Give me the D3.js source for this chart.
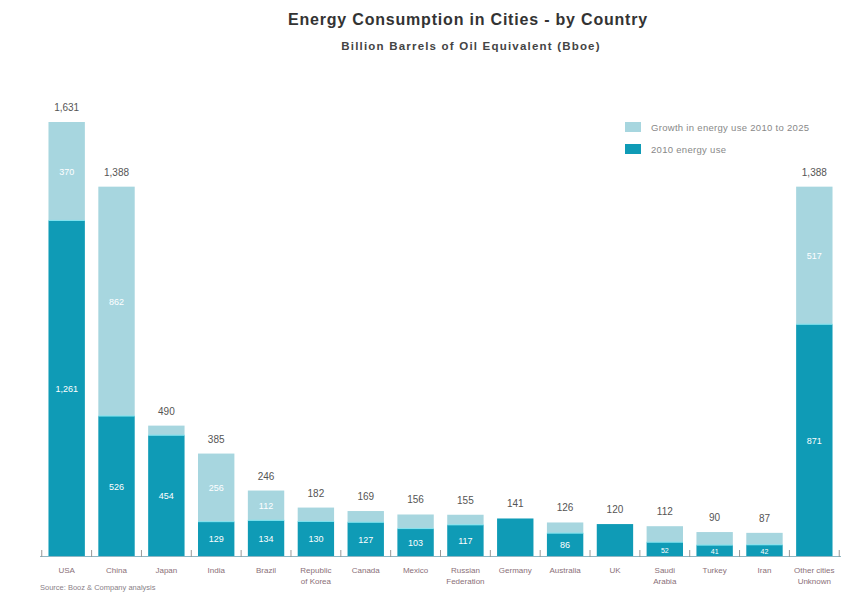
<!DOCTYPE html>
<html><head><meta charset="utf-8">
<script src="https://cdn.jsdelivr.net/npm/d3@7"></script>
<style>body{margin:0;background:#fff;font-family:"Liberation Sans",Arial,sans-serif}</style>
</head><body><svg id="c" width="862" height="593"></svg>
<script>
const categories = ["USA","China","Japan","India","Brazil","Republic|of Korea","Canada","Mexico","Russian|Federation","Germany","Australia","UK","Saudi|Arabia","Turkey","Iran","Other cities|Unknown"];
const base2010 = [1261,526,454,129,134,130,127,103,117,141,86,120,52,41,42,871];
const growth = [370,862,36,256,112,52,42,53,38,0,40,0,60,49,45,517];
const seriesNames = ["Growth in energy use 2010 to 2025","2010 energy use"];
const titleText = "Energy Consumption in Cities - by Country";
const subtitleText = "Billion Barrels of Oil Equivalent (Bboe)";
const sourceText = "Source: Booz & Company analysis";

const dark = "#0f9bb6", light = "#a7d6df";
const svg = d3.select("#c");
const fmt = d3.format(",");
const totals = base2010.map((d,i)=>d+growth[i]);

const x = d3.scaleBand().domain(categories).range([42,839]).paddingInner(0.27).paddingOuter(0.13);
const y = d3.scaleLinear().domain([0,1631]).range([556,122]);

// title
svg.append("text").attr("x",468).attr("y",25).attr("text-anchor","middle")
  .attr("font-size",16).attr("letter-spacing",0.8).attr("font-weight","bold").attr("fill","#333").text(titleText);
svg.append("text").attr("x",471).attr("y",50).attr("text-anchor","middle")
  .attr("font-size",11.5).attr("letter-spacing",1.2).attr("font-weight","bold").attr("fill","#444").text(subtitleText);

// bars
const g = svg.append("g");
categories.forEach((c,i)=>{
  const bx = x(c), bw = x.bandwidth();
  g.append("rect").attr("x",bx).attr("width",bw).attr("y",y(base2010[i])).attr("height",y(0)-y(base2010[i])).attr("fill",dark);
  if(growth[i]>0){
    g.append("rect").attr("x",bx).attr("width",bw).attr("y",y(totals[i])).attr("height",y(base2010[i])-y(totals[i])).attr("fill",light);
    g.append("line").attr("x1",bx).attr("x2",bx+bw).attr("y1",y(base2010[i])).attr("y2",y(base2010[i])).attr("stroke","#7fe3ef").attr("stroke-width",1);
  }
  if(growth[i]>0){
    const hd = y(0)-y(base2010[i]);
    g.append("text").attr("x",bx+bw/2).attr("y",(y(0)+y(base2010[i]))/2+3.5).attr("text-anchor","middle")
      .attr("font-size",hd<16?7:9).attr("fill","#fff").text(fmt(base2010[i]));
    const hg = y(base2010[i])-y(totals[i]);
    if(hg>=16) g.append("text").attr("x",bx+bw/2).attr("y",(y(base2010[i])+y(totals[i]))/2+3.5).attr("text-anchor","middle")
      .attr("font-size",9).attr("fill","#fff").text(fmt(growth[i]));
  }
  g.append("text").attr("x",bx+bw/2).attr("y",y(totals[i])-11).attr("text-anchor","middle")
    .attr("font-size",10).attr("fill","#555").text(fmt(totals[i]));
});

// axis
const ax = svg.append("g");
ax.append("line").attr("x1",40).attr("x2",841).attr("y1",556.5).attr("y2",556.5).attr("stroke","#8fb7c4").attr("stroke-width",1.2);
const step = x.step();
const bounds = categories.map(c=>x(c)-(step-x.bandwidth())/2).concat([x(categories[categories.length-1])+x.bandwidth()+(step-x.bandwidth())/2]);
bounds.forEach(b=>ax.append("line").attr("x1",b).attr("x2",b).attr("y1",550).attr("y2",557).attr("stroke","#999").attr("stroke-width",1));
categories.forEach(c=>{
  const parts = c.split("|");
  parts.forEach((p,k)=>ax.append("text").attr("x",x(c)+x.bandwidth()/2).attr("y",573+k*11).attr("text-anchor","middle")
    .attr("font-size",8).attr("fill","#8a6f78").text(p));
});
svg.append("text").attr("x",40).attr("y",590).attr("font-size",7.5).attr("fill","#8a7f88").text(sourceText);

// legend
const lg = svg.append("g");
[light,dark].forEach((col,k)=>{
  lg.append("rect").attr("x",625).attr("y",122+k*22).attr("width",16).attr("height",10).attr("fill",col);
  lg.append("text").attr("x",651).attr("y",131+k*22).attr("font-size",9.5).attr("letter-spacing",0.3).attr("fill","#888").text(seriesNames[k]);
});
</script></body></html>
